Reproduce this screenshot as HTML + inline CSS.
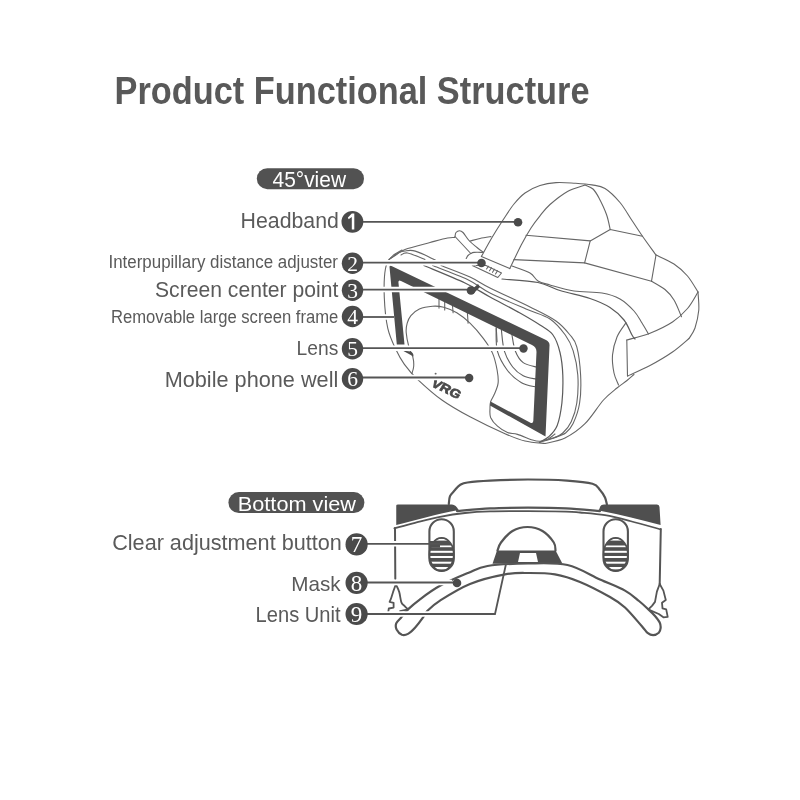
<!DOCTYPE html>
<html><head><meta charset="utf-8">
<style>
html,body{margin:0;padding:0;background:#fff;}
body{width:800px;height:800px;overflow:hidden;position:relative;}
svg{position:absolute;left:0;top:0;will-change:transform;}
.t{font-family:"Liberation Sans",sans-serif;}
.d{font-family:"Liberation Serif",serif;}
</style></head><body>
<svg width="800" height="800" viewBox="0 0 800 800">
<rect width="800" height="800" fill="#fff"/>
<g fill="none" stroke-linecap="round" stroke-linejoin="round">
<path d="M481.4,256.4 C483.2,253.2 488.4,243.6 492.0,237.5 C495.6,231.4 499.3,225.6 503.0,220.0 C506.7,214.4 510.3,208.5 514.0,204.0 C517.7,199.5 520.7,196.1 525.0,193.0 C529.3,189.9 534.8,187.2 540.0,185.5 C545.2,183.8 550.1,183.0 556.0,182.6 C561.9,182.2 569.6,182.9 575.6,183.2 C581.6,183.6 587.0,184.0 591.9,184.9 C596.8,185.8 600.3,185.6 605.0,188.5 C609.7,191.4 615.5,197.2 620.0,202.5 C624.5,207.8 628.2,214.9 632.0,220.5 C635.8,226.1 638.5,230.5 642.5,236.2 C646.5,242.0 653.8,251.9 656.0,255.0" stroke="#666" stroke-width="1.1"/>
<path d="M509.8,268.6 C511.7,264.7 517.7,251.8 521.2,245.0 C524.8,238.2 527.9,232.9 531.0,228.0 C534.1,223.1 536.8,219.7 540.0,215.8 C543.2,211.8 545.4,208.6 550.0,204.5 C554.6,200.4 561.7,194.7 567.5,191.4 C573.3,188.2 582.1,186.1 585.0,185.0" stroke="#666" stroke-width="1.1"/>
<path d="M585.0,185.0 C586.3,185.7 590.7,186.8 593.0,189.0 C595.3,191.2 596.8,193.8 599.0,198.0 C601.2,202.2 604.6,209.2 606.5,214.5 C608.4,219.8 609.6,227.0 610.2,229.5" stroke="#666" stroke-width="1.1"/>
<path d="M481.4,256.4 L509.8,268.6" stroke="#666" stroke-width="1.1"/>
<path d="M526.0,235.2 L590.2,240.9 L610.2,229.5 L642.5,236.2" stroke="#666" stroke-width="1.1"/>
<path d="M590.2,240.9 L584.6,262.9" stroke="#666" stroke-width="1.1"/>
<path d="M513.9,259.6 L584.6,262.9 L651.5,281.2" stroke="#666" stroke-width="1.1"/>
<path d="M651.5,281.2 C653.8,282.6 661.2,286.4 665.0,289.5 C668.8,292.6 671.2,295.5 674.0,300.0 C676.8,304.5 680.2,314.0 681.5,316.8" stroke="#666" stroke-width="1.1"/>
<path d="M656.0,255.0 L651.5,281.2" stroke="#666" stroke-width="1.1"/>
<path d="M656.0,255.0 C659.0,256.5 668.8,260.5 674.0,264.0 C679.2,267.5 683.5,271.3 687.5,276.0 C691.5,280.7 696.2,289.3 698.0,292.0" stroke="#666" stroke-width="1.1"/>
<path d="M626.8,340.0 C630.6,338.9 642.4,336.2 650.0,333.2 C657.6,330.2 666.2,326.1 672.5,322.0 C678.8,317.9 683.2,313.5 687.5,308.5 C691.8,303.5 696.2,294.8 698.0,292.0" stroke="#666" stroke-width="1.1"/>
<path d="M698.0,292.0 C698.1,295.0 699.2,304.0 698.8,310.0 C698.2,316.0 696.6,323.2 695.0,328.0 C693.4,332.8 690.0,336.8 689.0,338.5" stroke="#666" stroke-width="1.1"/>
<path d="M689.0,338.5 C686.2,340.8 679.0,347.5 672.5,352.0 C666.0,356.5 657.5,361.5 650.0,365.5 C642.5,369.5 631.2,374.2 627.5,376.0" stroke="#666" stroke-width="1.1"/>
<path d="M626.8,340.0 L627.5,376.0" stroke="#666" stroke-width="1.1"/>
<path d="M512.0,266.0 C515.0,267.2 525.7,270.5 530.0,273.0 C534.3,275.5 534.7,279.0 538.0,281.0 C541.3,283.0 544.0,283.3 550.0,285.0 C556.0,286.7 565.3,289.7 574.0,291.0 C582.7,292.3 594.3,291.7 602.0,293.0 C609.7,294.3 614.7,296.0 620.0,299.0 C625.3,302.0 630.3,307.0 634.0,311.0 C637.7,315.0 639.6,319.2 642.0,323.0 C644.4,326.8 647.4,332.2 648.5,334.0" stroke="#666" stroke-width="1.1"/>
<path d="M502.0,279.0 C508.0,279.6 528.3,280.6 538.0,282.5 C547.7,284.4 551.3,287.8 560.0,290.5 C568.7,293.2 581.7,295.7 590.0,298.5 C598.3,301.3 604.3,303.9 610.0,307.5 C615.7,311.1 620.3,315.4 624.0,320.0 C627.7,324.6 630.2,331.8 632.0,335.0 C633.8,338.2 634.5,338.3 635.0,339.0" stroke="#5a5a5a" stroke-width="1.2"/>
<path d="M626.0,322.8 C624.5,325.1 619.2,331.6 617.0,337.0 C614.8,342.4 613.0,349.0 612.5,355.0 C612.0,361.0 613.0,368.0 614.0,373.0 C615.0,378.0 617.8,383.0 618.5,385.0" stroke="#666" stroke-width="1.1"/>
<path d="M545.0,443.5 C548.3,442.6 558.3,441.3 565.0,438.0 C571.7,434.7 578.6,430.0 585.0,423.7 C591.4,417.4 598.2,405.9 603.5,400.0 C608.8,394.1 613.1,391.2 617.0,388.0 C620.9,384.8 624.2,382.8 627.0,380.5 C629.8,378.2 632.8,375.5 634.0,374.5" stroke="#666" stroke-width="1.1"/>
<path d="M388.8,259.4 C390.0,258.7 393.3,256.7 396.0,255.0 C398.7,253.3 399.3,251.5 405.0,249.4 C410.7,247.3 422.9,244.4 430.0,242.5 C437.1,240.6 443.3,238.8 447.5,238.0 C451.7,237.2 453.8,237.6 455.0,237.5" stroke="#666" stroke-width="1.1"/>
<path d="M455.0,236.5 C455.2,235.8 455.2,233.4 456.0,232.5 C456.8,231.6 458.3,230.8 459.5,230.8 C460.7,230.8 461.4,230.9 463.0,232.5 C464.6,234.1 466.7,238.0 469.0,240.5 C471.3,243.0 474.6,245.5 477.0,247.5 C479.4,249.5 482.4,251.6 483.5,252.4" stroke="#666" stroke-width="1.1"/>
<path d="M455.0,236.5 L470.8,253.5" stroke="#666" stroke-width="1.1"/>
<path d="M466.2,258.5 C466.5,258.0 467.2,256.3 468.0,255.5 C468.8,254.7 469.8,254.0 470.8,253.5 C471.8,253.0 471.9,252.6 474.0,252.4 C476.1,252.2 481.9,252.4 483.5,252.4" stroke="#666" stroke-width="1.1"/>
<path d="M470.0,241.0 C471.7,240.6 476.5,239.2 480.0,238.5 C483.5,237.8 489.2,236.9 491.0,236.6" stroke="#666" stroke-width="1.1"/>
<path d="M391.2,258.0 C392.4,257.2 395.7,254.2 398.0,253.0 C400.3,251.8 402.5,251.4 405.0,251.0 C407.5,250.6 409.7,249.9 413.0,250.6 C416.3,251.3 421.2,253.3 425.0,255.0 C428.8,256.7 434.2,259.7 436.0,260.6" stroke="#666" stroke-width="1.1"/>
<path d="M401.0,255.0 C402.1,254.7 403.5,252.3 407.5,253.0 C411.5,253.7 422.1,258.3 425.0,259.4" stroke="#666" stroke-width="1.1"/>
<path d="M441.0,265.5 C445.8,267.4 461.8,273.2 470.0,277.0 C478.2,280.8 480.0,283.0 490.0,288.0 C500.0,293.0 519.0,301.5 530.0,307.0 C541.0,312.5 549.3,316.3 556.0,321.0 C562.7,325.7 566.5,330.7 570.0,335.0 C573.5,339.3 575.0,340.1 576.8,346.8 C578.6,353.5 580.1,365.6 580.6,375.0 C581.1,384.4 580.9,394.9 579.6,403.0 C578.4,411.1 575.4,418.6 573.1,423.6 C570.8,428.6 568.7,430.7 565.6,433.0 C562.5,435.3 557.8,436.3 554.4,437.5 C551.0,438.7 546.6,439.6 545.0,440.0" stroke="#666" stroke-width="1.1"/>
<path d="M432.5,265.5 C438.3,267.8 457.9,274.9 467.5,279.5 C477.1,284.1 480.2,288.1 490.0,293.0 C499.8,297.9 516.0,304.7 526.0,309.0 C536.0,313.3 543.5,314.7 550.0,319.0 C556.5,323.3 561.4,329.7 565.3,335.0 C569.1,340.3 571.0,343.9 573.1,350.6 C575.2,357.3 577.2,366.3 577.8,375.0 C578.4,383.7 577.9,395.2 576.8,403.0 C575.7,410.8 573.5,416.8 571.2,421.8 C568.9,426.8 565.9,430.2 562.8,433.0 C559.7,435.8 556.3,437.1 552.5,438.6 C548.7,440.1 542.1,441.4 540.0,442.0" stroke="#666" stroke-width="1.1"/>
<path d="M423.8,265.5 C430.6,268.4 454.0,277.8 465.0,283.0 C476.0,288.2 480.8,292.0 490.0,297.0 C499.2,302.0 511.7,308.3 520.0,313.0 C528.3,317.7 534.5,321.3 540.0,325.0 C545.5,328.7 549.7,330.4 553.0,335.0 C556.3,339.6 558.4,345.8 560.0,352.5 C561.6,359.2 562.5,366.6 562.8,375.0 C563.1,383.4 562.8,394.6 561.9,403.0 C560.9,411.4 559.4,419.9 557.2,425.5 C555.0,431.1 551.7,434.0 548.7,436.8 C545.7,439.6 541.0,441.5 539.4,442.4" stroke="#5a5a5a" stroke-width="1.2"/>
<path d="M472.3,265.5 L486.0,265.5 L501.5,273.0 L497.8,277.5 L472.3,265.5" stroke="#666" stroke-width="1.1"/>
<path d="M488.5,266.3 L486.5,269.0" stroke="#666" stroke-width="1.1"/>
<path d="M491.5,267.8 L489.5,270.7" stroke="#666" stroke-width="1.1"/>
<path d="M494.5,269.3 L492.5,272.3" stroke="#666" stroke-width="1.1"/>
<path d="M497.5,270.8 L495.5,274.0" stroke="#666" stroke-width="1.1"/>
<path d="M402.0,250.0 C400.2,251.2 394.2,253.8 391.4,257.0 C388.6,260.2 386.6,262.2 385.4,269.0 C384.2,275.8 383.9,287.6 384.3,297.5 C384.7,307.4 385.9,319.7 387.8,328.4 C389.8,337.1 393.2,343.8 396.0,349.8 C398.8,355.8 400.8,359.4 404.4,364.3 C408.0,369.2 411.2,373.4 417.5,379.3 C423.8,385.2 433.1,393.8 441.9,400.0 C450.6,406.2 459.5,411.2 470.0,416.8 C480.5,422.4 495.8,429.7 505.0,433.7 C514.2,437.7 518.3,439.4 525.0,441.0 C531.7,442.6 541.7,443.1 545.0,443.5" stroke="#666" stroke-width="1.1"/>
<path d="M411.9,373.7 C412.2,372.4 413.5,369.0 413.7,366.2 C413.9,363.4 413.6,359.9 412.8,356.8 C412.0,353.7 410.1,351.6 409.0,347.5 C407.9,343.4 406.5,336.6 406.2,332.5 C405.9,328.4 406.4,325.9 407.2,323.1 C408.0,320.3 408.9,318.0 410.9,315.6 C412.9,313.2 415.8,310.6 419.4,309.0 C423.0,307.4 428.4,306.5 432.5,306.2 C436.6,305.9 439.6,306.1 443.7,307.2 C447.8,308.3 452.4,310.1 456.8,312.8 C461.2,315.5 465.6,318.9 470.0,323.1 C474.4,327.3 479.4,333.1 483.1,338.1 C486.9,343.1 490.2,347.8 492.5,353.1 C494.8,358.4 496.2,365.0 497.1,370.0 C498.0,375.0 498.6,379.1 498.1,383.1 C497.6,387.2 495.6,391.2 494.3,394.3 C493.1,397.4 491.3,399.5 490.6,401.8 C489.9,404.1 490.0,405.4 490.0,408.0 C490.0,410.6 489.4,414.5 490.6,417.5 C491.9,420.5 494.7,423.8 497.5,426.2 C500.3,428.8 504.2,431.1 507.5,432.5 C510.8,433.9 513.3,433.1 517.5,434.4 C521.7,435.6 528.8,438.9 532.5,440.0 C536.2,441.1 537.5,441.4 540.0,441.2 C542.5,441.1 545.0,440.6 547.5,439.4 C550.0,438.2 553.8,434.9 555.0,434.0" stroke="#666" stroke-width="1.1"/>
<path d="M439.0,296.9 L439.0,308.1" stroke="#666" stroke-width="1.1"/>
<path d="M444.7,298.7 L444.7,310.0" stroke="#666" stroke-width="1.1"/>
<path d="M452.2,302.5 L453.1,312.8" stroke="#666" stroke-width="1.1"/>
<path d="M467.2,310.0 L468.1,323.1" stroke="#666" stroke-width="1.1"/>
<path d="M496.2,326.9 L497.1,341.9" stroke="#666" stroke-width="1.1"/>
<path d="M511.9,334.6 C512.5,337.4 513.5,346.5 515.4,351.2 C517.3,355.9 519.5,359.9 523.2,362.6 C526.9,365.3 535.3,366.6 537.7,367.4" stroke="#606060" stroke-width="1.1"/>
<path d="M501.4,330.2 C501.9,333.7 502.5,345.1 504.4,351.2 C506.3,357.3 509.6,362.9 512.7,367.0 C515.8,371.1 519.3,373.7 523.2,375.7 C527.1,377.7 534.1,378.6 536.3,379.2" stroke="#606060" stroke-width="1.1"/>
<path d="M496.1,328.5 C496.3,332.3 495.5,344.2 497.4,351.2 C499.3,358.2 503.5,365.2 507.5,370.5 C511.5,375.8 516.7,379.9 521.5,382.7 C526.3,385.5 533.8,386.4 536.3,387.1" stroke="#606060" stroke-width="1.1"/>
</g>
<path fill="#4d4d4d" d="M389.5,267 Q389.5,265 391.5,266 L546,340 Q550,342 549.5,346 L545.5,436.5 L490,405.5 L490.5,401.6 L530,422.5 Q533,424 533.3,421 L536.5,352 Q536.5,347 532,345 L401,281 Q398,279.5 398.5,283 L404.5,344.5 L396.8,344.5 Z"/>
<path fill="#4d4d4d" d="M402.5,350.6 L410.5,351.6 Q413.5,352.5 413.5,356.5 Z"/>
<g transform="translate(435,378) rotate(26) skewX(-6)"><text x="0" y="9" font-family="Liberation Sans" font-weight="bold" font-size="12.5" fill="#4a4a4a" stroke="#4a4a4a" stroke-width="0.7" textLength="31" lengthAdjust="spacingAndGlyphs">VRG</text></g><circle cx="435.6" cy="373.8" r="1" fill="#666"/>
<path d="M448.8,504.0 C449.0,502.7 449.0,498.6 450.0,496.2 C451.0,493.9 453.3,491.9 455.0,490.0 C456.7,488.1 457.9,486.2 460.0,485.0 C462.1,483.8 462.5,483.2 467.5,482.5 C472.5,481.8 479.9,481.1 490.0,480.6 C500.1,480.1 515.2,479.5 528.0,479.5 C540.8,479.5 556.2,479.9 567.0,480.6 C577.8,481.3 587.0,482.2 592.5,483.8 C598.0,485.3 597.9,487.7 600.0,490.0 C602.1,492.3 603.9,495.1 605.0,497.5 C606.1,499.9 606.6,503.2 606.9,504.4" fill="none" stroke="#555" stroke-width="2.2" stroke-linecap="round" stroke-linejoin="round"/>
<path fill="#4f4f4f" d="M396.25,505.5 Q396.25,504.4 398,504.4 L452,504.4 Q456,504.6 458.6,510 Q440,513.5 427.5,517 Q410,521.5 396.25,525 Z"/>
<path fill="#4f4f4f" d="M598.75,510.6 L600.2,506.5 Q601,504.4 604,504.4 L657,504.4 Q659.4,504.6 659.5,507 L660.6,525 Q645,521 630,517.3 Q614,513.5 598.75,510.6 Z"/>
<path d="M457.0,511.0 C462.5,510.6 478.2,508.9 490.0,508.4 C501.8,507.8 515.3,507.7 528.0,507.7 C540.7,507.7 554.0,507.8 566.0,508.4 C578.0,508.9 594.3,510.6 600.0,511.0" fill="none" stroke="#555" stroke-width="2.3" stroke-linecap="round" stroke-linejoin="round"/>
<path d="M394.4,528.3 C397.8,527.4 407.4,524.7 415.0,522.8 C422.6,520.9 431.7,518.4 440.0,516.8 C448.3,515.2 456.7,513.9 465.0,513.0 C473.3,512.1 479.5,511.7 490.0,511.4 C500.5,511.1 515.3,511.1 528.0,511.1 C540.7,511.1 557.3,511.4 566.0,511.6 C574.7,511.8 573.5,511.9 580.0,512.5 C586.5,513.1 596.7,513.8 605.0,515.2 C613.3,516.6 620.8,518.6 630.0,521.0 C639.2,523.4 655.4,527.9 660.5,529.3" fill="none" stroke="#555" stroke-width="1.8" stroke-linecap="round" stroke-linejoin="round"/>
<path d="M395.0,528.0 L395.3,578.8" fill="none" stroke="#555" stroke-width="2.0" stroke-linecap="round" stroke-linejoin="round"/>
<path d="M660.8,529.0 L659.7,584.0" fill="none" stroke="#555" stroke-width="2.0" stroke-linecap="round" stroke-linejoin="round"/>
<rect x="429.4" y="519.25" width="24.4" height="51.6" rx="12.2" fill="none" stroke="#555" stroke-width="2.1"/>
<rect x="603.5" y="519.25" width="24.4" height="51.6" rx="12.2" fill="none" stroke="#555" stroke-width="2.1"/>
<clipPath id="cp441"><ellipse cx="441.6" cy="554.4" rx="11.3" ry="15.6"/></clipPath>
<ellipse cx="441.6" cy="554.4" rx="12.3" ry="16.6" fill="#505050" stroke="#505050" stroke-width="1.6"/>
<g clip-path="url(#cp441)">
<rect x="426.6" y="538.6" width="30" height="2.0" fill="#fff"/>
<rect x="426.6" y="545.5" width="30" height="1.7" fill="#fff"/>
<rect x="426.6" y="550.8" width="30" height="2.0" fill="#fff"/>
<rect x="426.6" y="556.0" width="30" height="2.0" fill="#fff"/>
<rect x="426.6" y="561.7" width="30" height="2.0" fill="#fff"/>
<rect x="426.6" y="567.0" width="30" height="2.4" fill="#fff"/>
</g>
<clipPath id="cp615"><ellipse cx="615.7" cy="554.4" rx="11.3" ry="15.6"/></clipPath>
<ellipse cx="615.7" cy="554.4" rx="12.3" ry="16.6" fill="#505050" stroke="#505050" stroke-width="1.6"/>
<g clip-path="url(#cp615)">
<rect x="600.7" y="538.6" width="30" height="2.0" fill="#fff"/>
<rect x="600.7" y="545.5" width="30" height="1.7" fill="#fff"/>
<rect x="600.7" y="550.8" width="30" height="2.0" fill="#fff"/>
<rect x="600.7" y="556.0" width="30" height="2.0" fill="#fff"/>
<rect x="600.7" y="561.7" width="30" height="2.0" fill="#fff"/>
<rect x="600.7" y="567.0" width="30" height="2.4" fill="#fff"/>
</g>
<rect x="430" y="541" width="10" height="6.5" fill="#505050"/>
<path d="M497.5,550.6 C498.1,549.2 498.5,545.8 501.0,542.5 C503.5,539.2 508.1,533.6 512.5,531.0 C516.9,528.4 522.5,527.0 527.5,527.0 C532.5,527.0 538.1,528.4 542.5,531.0 C546.9,533.6 551.6,539.2 553.8,542.5 C555.9,545.8 555.2,549.2 555.5,550.6" fill="none" stroke="#555" stroke-width="2.2" stroke-linecap="round" stroke-linejoin="round"/>
<path fill="#4f4f4f" d="M497,550.6 L555.6,550.6 L562.5,563.75 L492.5,563.75 Z"/>
<path fill="#fff" d="M520,553 L536,553 L538,561.9 L518,561.9 Z"/>
<path d="M401.0,617.7 C402.2,616.3 404.9,612.4 408.0,609.4 C411.1,606.4 414.1,603.7 419.4,599.8 C424.7,595.8 431.9,590.2 440.0,585.8 C448.1,581.3 460.1,576.3 468.0,573.0 C475.9,569.7 477.5,567.6 487.5,566.0 C497.5,564.4 514.7,563.7 528.0,563.5 C541.3,563.3 555.5,562.3 567.5,565.0 C579.5,567.7 590.4,575.2 600.0,579.5 C609.6,583.8 618.5,587.0 625.0,590.6 C631.5,594.2 635.1,597.9 639.0,601.0 C642.9,604.1 645.7,606.9 648.4,609.4 C651.1,611.9 653.1,613.8 655.0,616.0 C656.9,618.2 658.8,620.5 659.7,622.5 C660.6,624.5 660.8,626.4 660.6,628.1 C660.4,629.8 660.0,631.6 658.8,632.8 C657.5,634.0 655.0,635.2 653.1,635.2 C651.2,635.2 649.4,634.3 647.5,632.8 C645.6,631.3 645.6,630.5 641.9,626.2 C638.1,622.0 630.3,612.4 625.0,607.5 C619.7,602.6 617.5,601.2 610.0,597.0 C602.5,592.8 589.2,585.8 580.0,582.0 C570.8,578.2 563.7,575.9 555.0,574.4 C546.3,572.9 536.3,573.0 528.0,573.0 C519.7,573.0 514.7,572.6 505.0,574.4 C495.3,576.2 480.8,579.6 470.0,584.0 C459.2,588.4 447.1,596.1 440.0,600.6 C432.9,605.1 430.1,608.2 427.2,611.1 C424.4,614.0 424.9,614.9 422.9,617.7 C420.9,620.5 417.5,625.0 415.0,627.8 C412.5,630.5 410.2,632.7 408.0,633.9 C405.8,635.1 403.8,635.5 401.9,634.8 C400.0,634.0 397.6,631.4 396.6,629.5 C395.7,627.6 395.5,625.4 396.2,623.4 C396.9,621.4 400.2,618.7 401.0,617.7" fill="none" stroke="#555" stroke-width="2.2" stroke-linecap="round" stroke-linejoin="round"/>
<path d="M395.3,585.8 L393.1,591.9 L390.9,598.9 L389.6,601.9 L393.6,602.8 L393.6,607.6 L388.8,608.5 L388.3,611.6" fill="none" stroke="#555" stroke-width="1.8" stroke-linecap="round" stroke-linejoin="round"/>
<path d="M396.6,585.8 C397.0,586.8 398.4,589.1 399.2,591.9 C400.1,594.7 400.5,600.1 401.4,602.4 C402.3,604.7 403.4,604.7 404.5,605.9 C405.6,607.1 407.4,608.8 408.0,609.4" fill="none" stroke="#555" stroke-width="1.8" stroke-linecap="round" stroke-linejoin="round"/>
<path d="M408.0,609.4 L400.1,611.1" fill="none" stroke="#555" stroke-width="1.8" stroke-linecap="round" stroke-linejoin="round"/>
<path d="M659.7,584.0 L656.9,591.6 L655.0,601.9 L652.2,605.6 L648.4,609.4" fill="none" stroke="#555" stroke-width="1.8" stroke-linecap="round" stroke-linejoin="round"/>
<path d="M659.7,584.0 L663.4,590.6 L665.8,600.0 L662.0,602.8 L662.5,608.4 L666.2,609.4 L667.7,616.9 L663.4,617.3 L658.8,614.0 L650.3,610.3" fill="none" stroke="#555" stroke-width="1.8" stroke-linecap="round" stroke-linejoin="round"/>
<!-- title -->
<text class="t" x="114.5" y="104" font-size="38.5" font-weight="bold" fill="#595959" textLength="475" lengthAdjust="spacingAndGlyphs">Product Functional Structure</text>
<!-- pills -->
<rect x="256.8" y="168.2" width="107.2" height="21" rx="10.5" fill="#525252"/>
<text class="t" x="272.5" y="187" font-size="21.5" fill="#fff" textLength="73.5" lengthAdjust="spacingAndGlyphs">45°view</text>
<rect x="228.4" y="492.1" width="136" height="21" rx="10.5" fill="#525252"/>
<text class="t" x="237.8" y="510.7" font-size="21" fill="#fff" textLength="118.2" lengthAdjust="spacingAndGlyphs">Bottom view</text>
<!-- labels -->
<g fill="#5a5a5a">
<text class="t" x="240.6" y="228.2" font-size="22" textLength="98.3" lengthAdjust="spacingAndGlyphs">Headband</text>
<text class="t" x="108.5" y="267.6" font-size="17.5" textLength="229.5" lengthAdjust="spacingAndGlyphs">Interpupillary distance adjuster</text>
<text class="t" x="155" y="296.6" font-size="22.5" textLength="183.3" lengthAdjust="spacingAndGlyphs">Screen center point</text>
<text class="t" x="111" y="322.8" font-size="17.5" textLength="227.3" lengthAdjust="spacingAndGlyphs">Removable large screen frame</text>
<text class="t" x="296.6" y="354.8" font-size="20.5" textLength="41.7" lengthAdjust="spacingAndGlyphs">Lens</text>
<text class="t" x="164.7" y="387.2" font-size="21.5" textLength="173.6" lengthAdjust="spacingAndGlyphs">Mobile phone well</text>
<text class="t" x="112.2" y="550.3" font-size="22" textLength="229.6" lengthAdjust="spacingAndGlyphs">Clear adjustment button</text>
<text class="t" x="291.2" y="590.9" font-size="21" textLength="49.4" lengthAdjust="spacingAndGlyphs">Mask</text>
<text class="t" x="255.6" y="621.9" font-size="21.5" textLength="85" lengthAdjust="spacingAndGlyphs">Lens Unit</text>
</g>
<!-- leader lines -->
<g stroke="#fff" stroke-width="5.5" fill="none">
<path d="M372,262.7 H476"/>
<path d="M372,289.6 H466"/>
<path d="M372,317 H394"/>
<path d="M372,348.2 H518"/>
<path d="M372,377.5 H464"/>
<path d="M372,543.8 H428"/>
<path d="M372,582.5 H452"/>
<path d="M372,614 H493"/>
</g>
<g stroke="#555" stroke-width="1.8" fill="none">
<path d="M363,221.8 H518"/>
<path d="M362,262.7 H482"/>
<path d="M362,289.6 H471"/>
<path d="M362,317 H394"/>
<path d="M362,348.2 H523.5"/>
<path d="M362,377.5 H469"/>
<path d="M366,543.8 H440"/>
<path d="M366,582.5 H457"/>
<path d="M366,614 H495 L506,564"/>
</g>
<g fill="#4a4a4a">
<circle cx="518" cy="222.3" r="4.3"/>
<circle cx="481.5" cy="263" r="4.3"/>
<circle cx="471" cy="290.5" r="4.3"/>
<path d="M469,292 L478,284 L480,287 L473,294 Z"/>
<circle cx="523.5" cy="348.5" r="4.2"/>
<circle cx="469.2" cy="378" r="4.2"/>
<circle cx="457" cy="583" r="4.3"/>
</g>
<!-- number circles -->
<g fill="#4a4a4a">
<circle cx="352.4" cy="221.8" r="10.9"/>
<circle cx="352.5" cy="263.3" r="10.7"/>
<circle cx="352.5" cy="290.3" r="10.7"/>
<circle cx="352.5" cy="316.5" r="10.7"/>
<circle cx="352.5" cy="348.8" r="10.7"/>
<circle cx="352.5" cy="378.8" r="10.7"/>
<circle cx="356.6" cy="544.4" r="11.1"/>
<circle cx="356.6" cy="582.8" r="11.1"/>
<circle cx="356.6" cy="614" r="11.1"/>
</g>
<g fill="#fff" text-anchor="middle">
<path d="M351.8,213.6 L354.3,213.6 L354.3,229.4 L351.8,229.4 L351.8,216.9 L348.6,219.3 L347.9,217.6 Z" fill="#fff"/>
<text class="d" x="352.5" y="271" font-size="21.5">2</text>
<text class="d" x="352.5" y="297.8" font-size="21.5">3</text>
<text class="d" x="352.5" y="324" font-size="21.5">4</text>
<text class="d" x="352.5" y="356.3" font-size="21.5">5</text>
<text class="d" x="352.5" y="386.3" font-size="21.5">6</text>
<text class="d" x="356.6" y="551.8" font-size="23">7</text>
<text class="d" x="356.6" y="591" font-size="23">8</text>
<text class="d" x="356.6" y="622" font-size="23">9</text>
</g>
</svg>
</body></html>
